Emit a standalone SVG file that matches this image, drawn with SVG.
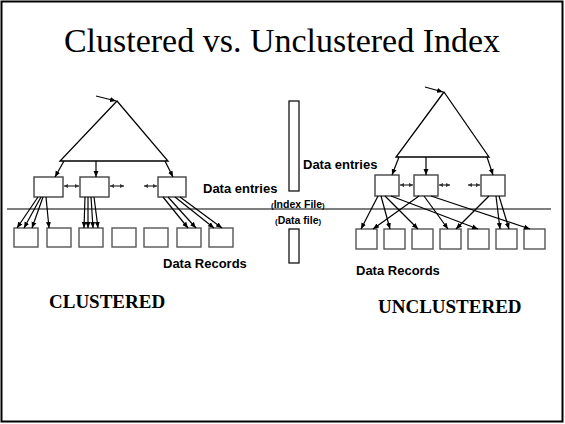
<svg xmlns="http://www.w3.org/2000/svg" width="565" height="424" viewBox="0 0 565 424">
  <defs>
    <marker id="head" markerUnits="userSpaceOnUse" markerWidth="7" markerHeight="6" refX="6" refY="3" orient="auto">
      <path d="M0,0.5 L6,3 L0,5.5 z" fill="#000"/>
    </marker>
    <marker id="tiny" markerUnits="userSpaceOnUse" markerWidth="5" markerHeight="4" refX="4" refY="2" orient="auto-start-reverse">
      <path d="M0,0 L4,2 L0,4 z" fill="#333"/>
    </marker>
  </defs>
  <style>
    .frame { fill: #fff; stroke: #000; stroke-width: 2; }
    .tri { fill: none; stroke: #000; stroke-width: 1.3; }
    .entry { fill: #fff; stroke: #444; stroke-width: 1.4; }
    .rec { fill: #fff; stroke: #555; stroke-width: 1.4; }
    .bar { fill: #fff; stroke: #000; stroke-width: 1.2; }
    .arrow { stroke: #000; stroke-width: 1.2; fill: none; marker-end: url(#head); }
    .sib { stroke: #333; stroke-width: 1.2; fill: none; marker-start: url(#tiny); marker-end: url(#tiny); }
    .rule { stroke: #000; stroke-width: 1.1; }
    .title { font-family: "Liberation Serif", "Times New Roman", serif; font-size: 34px; fill: #000; }
    .caps { font-family: "Liberation Serif", "Times New Roman", serif; font-size: 19px; font-weight: bold; fill: #000; }
    .lbl { font-family: "Liberation Sans", Arial, sans-serif; font-size: 13px; font-weight: bold; fill: #000; }
    .small { font-family: "Liberation Sans", Arial, sans-serif; font-size: 10.5px; font-weight: bold; fill: #000; }
    .paren { font-size: 8px; }
  </style>

  <!-- slide frame and title -->
  <rect class="frame" x="1.5" y="1.5" width="561" height="420"/>
  <text class="title" x="282" y="52" text-anchor="middle">Clustered vs. Unclustered Index</text>

  <!-- index / data file divider -->
  <line class="rule" x1="7" y1="209" x2="551" y2="209"/>

  <!-- clustered index tree -->
  <g id="clustered-tree">
    <path class="tri" d="M117,101 L60,161 L168,161 Z"/>
  </g>
  <g id="c-entry-1"><rect class="entry" x="34" y="177" width="29" height="20"/></g>
  <g id="c-entry-2"><rect class="entry" x="80" y="177" width="29" height="20"/></g>
  <g id="c-entry-3"><rect class="entry" x="158" y="177" width="28" height="20"/></g>
  <g id="c-records">
    <rect class="rec" x="14" y="228" width="24" height="19"/>
    <rect class="rec" x="47" y="228" width="24" height="19"/>
    <rect class="rec" x="79" y="228" width="24" height="19"/>
    <rect class="rec" x="112" y="228" width="24" height="19"/>
    <rect class="rec" x="144" y="228" width="24" height="19"/>
    <rect class="rec" x="177" y="228" width="24" height="19"/>
    <rect class="rec" x="209" y="228" width="24" height="19"/>
  </g>

  <!-- unclustered index tree -->
  <g id="unclustered-tree">
    <path class="tri" d="M444,92 L396,157 L489,157 Z"/>
  </g>
  <g id="u-entry-1"><rect class="entry" x="375" y="175" width="24" height="21"/></g>
  <g id="u-entry-2"><rect class="entry" x="414" y="175" width="24" height="21"/></g>
  <g id="u-entry-3"><rect class="entry" x="481" y="175" width="24" height="21"/></g>
  <g id="u-records">
    <rect class="rec" x="356" y="229" width="21" height="20"/>
    <rect class="rec" x="384" y="229" width="21" height="20"/>
    <rect class="rec" x="412" y="229" width="21" height="20"/>
    <rect class="rec" x="440" y="229" width="21" height="20"/>
    <rect class="rec" x="468" y="229" width="21" height="20"/>
    <rect class="rec" x="496" y="229" width="21" height="20"/>
    <rect class="rec" x="524" y="229" width="21" height="20"/>
  </g>

  <!-- file bars in the middle -->
  <g id="index-file-bar"><rect class="bar" x="289" y="101" width="10" height="90"/></g>
  <g id="data-file-bar"><rect class="bar" x="289" y="229" width="10" height="34"/></g>

  <g id="connectors">
    <!-- clustered: root pointer and triangle to leaves -->
    <line class="arrow" x1="96" y1="96" x2="116" y2="101"/>
    <line class="arrow" x1="64" y1="161" x2="55" y2="177"/>
    <line class="arrow" x1="96" y1="161" x2="96" y2="177"/>
    <line class="arrow" x1="165" y1="161" x2="173" y2="177"/>
    <!-- clustered: sibling links -->
    <line class="sib" x1="64" y1="186" x2="79" y2="186"/>
    <line class="sib" x1="110" y1="186" x2="124" y2="186"/>
    <line class="sib" x1="144" y1="186" x2="157" y2="186"/>
    <!-- clustered: entries to records -->
    <line class="arrow" x1="38" y1="197" x2="17" y2="228"/>
    <line class="arrow" x1="41" y1="197" x2="24" y2="228"/>
    <line class="arrow" x1="43" y1="197" x2="32" y2="228"/>
    <line class="arrow" x1="46" y1="197" x2="49" y2="228"/>
    <line class="arrow" x1="85" y1="197" x2="84" y2="228"/>
    <line class="arrow" x1="88" y1="197" x2="88" y2="228"/>
    <line class="arrow" x1="91" y1="197" x2="93" y2="228"/>
    <line class="arrow" x1="94" y1="197" x2="98" y2="228"/>
    <line class="arrow" x1="163" y1="197" x2="188" y2="228"/>
    <line class="arrow" x1="168" y1="197" x2="196" y2="228"/>
    <line class="arrow" x1="175" y1="197" x2="214" y2="228"/>
    <line class="arrow" x1="180" y1="197" x2="222" y2="228"/>

    <!-- unclustered: root pointer and triangle to leaves -->
    <line class="arrow" x1="425" y1="87" x2="443" y2="92"/>
    <line class="arrow" x1="399" y1="157" x2="392" y2="175"/>
    <line class="arrow" x1="426" y1="157" x2="426" y2="175"/>
    <line class="arrow" x1="487" y1="157" x2="493" y2="175"/>
    <!-- unclustered: sibling links -->
    <line class="sib" x1="400" y1="185" x2="413" y2="185"/>
    <line class="sib" x1="439" y1="185" x2="450" y2="185"/>
    <line class="sib" x1="468" y1="185" x2="480" y2="185"/>
    <!-- unclustered: entries to scattered records -->
    <line class="arrow" x1="378" y1="196" x2="361" y2="229"/>
    <line class="arrow" x1="381" y1="196" x2="390" y2="229"/>
    <line class="arrow" x1="385" y1="196" x2="418" y2="229"/>
    <line class="arrow" x1="391" y1="196" x2="478" y2="229"/>
    <line class="arrow" x1="419" y1="196" x2="373" y2="229"/>
    <line class="arrow" x1="424" y1="196" x2="448" y2="229"/>
    <line class="arrow" x1="431" y1="196" x2="530" y2="229"/>
    <line class="arrow" x1="489" y1="196" x2="456" y2="229"/>
    <line class="arrow" x1="496" y1="196" x2="500" y2="229"/>
    <line class="arrow" x1="499" y1="196" x2="509" y2="229"/>
  </g>

  <!-- labels -->
  <text class="lbl" x="203" y="193">Data entries</text>
  <text class="lbl" x="303" y="169">Data entries</text>
  <text class="small" x="271" y="208"><tspan class="paren">(</tspan>Index File<tspan class="paren">)</tspan></text>
  <text class="small" x="275" y="224"><tspan class="paren">(</tspan>Data file<tspan class="paren">)</tspan></text>
  <text class="lbl" x="163" y="268">Data Records</text>
  <text class="lbl" x="356" y="275">Data Records</text>
  <text class="caps" x="49" y="308">CLUSTERED</text>
  <text class="caps" x="378" y="313">UNCLUSTERED</text>
</svg>
